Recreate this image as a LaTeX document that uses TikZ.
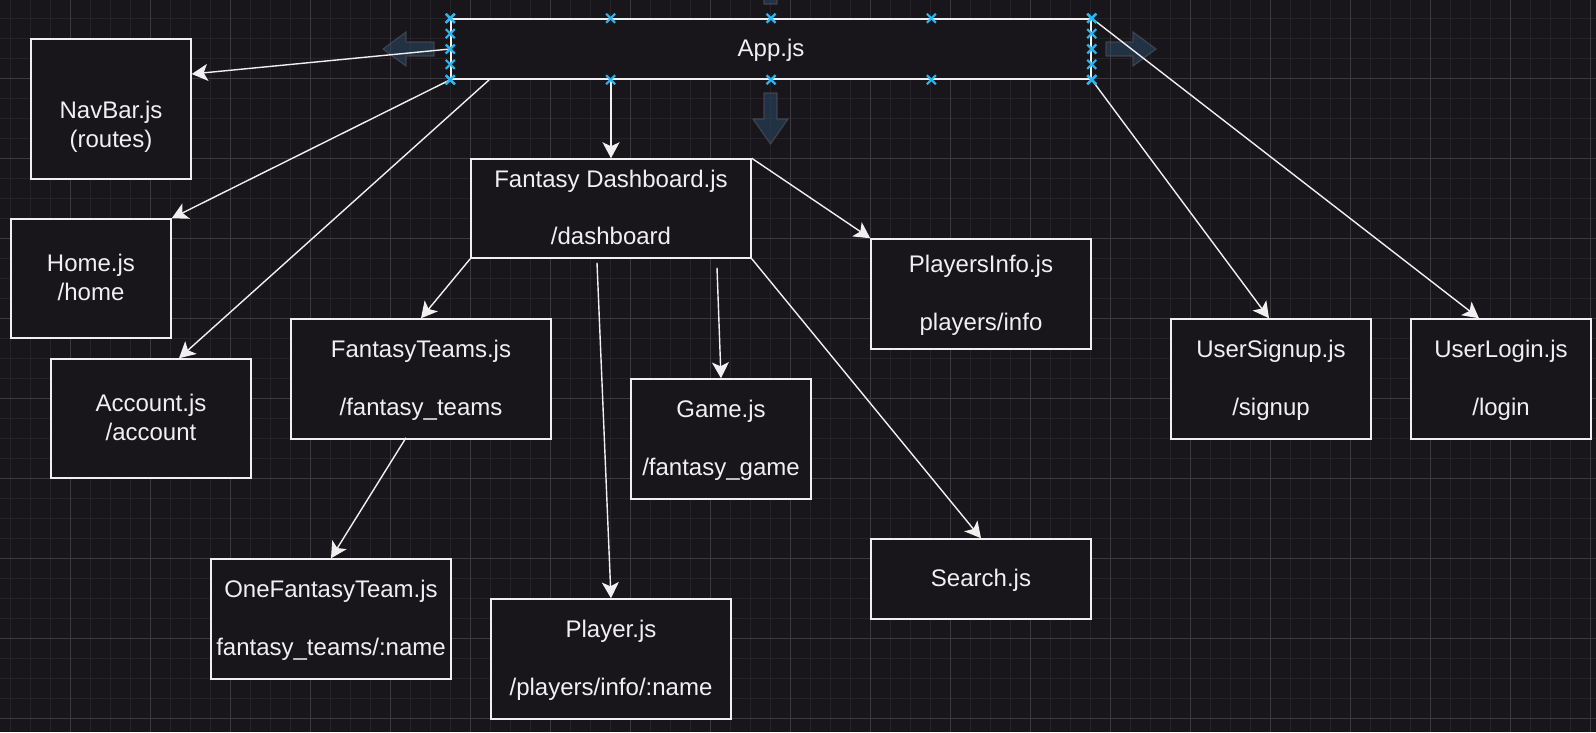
\documentclass[tikz,border=0pt]{standalone}
\usepackage{fontspec}
\setmainfont{Liberation Sans}
\usetikzlibrary{arrows.meta,calc}
\definecolor{bg}{RGB}{24,22,27}
\definecolor{gridminor}{RGB}{37,35,40}
\definecolor{gridmajor}{RGB}{60,58,63}
\definecolor{boxfill}{RGB}{24,21,27}
\definecolor{fg}{RGB}{240,240,240}
\definecolor{handle}{RGB}{41,182,242}
\definecolor{hovfill}{RGB}{40,74,100}
\definecolor{hovdraw}{RGB}{78,78,86}
\newcommand{\mystrut}{\rule[-6.9pt]{0pt}{28.8pt}}
\begin{document}
\begin{tikzpicture}[x=1pt,y=-1pt,
  stepbox/.style={draw=fg, line width=1.5pt, fill=boxfill, text=fg,
    font=\fontsize{24}{28.8}\selectfont, align=center, inner sep=0pt},
  conn/.style={draw=fg, line width=1.4pt, -{Stealth[length=16pt,width=17pt,inset=4pt]}},
  hover/.style={fill=hovfill, fill opacity=0.55, draw=hovdraw, draw opacity=0.7, line width=1.2pt},
  hmark/.style={draw=handle, line width=2.2pt}
]
\fill[bg] (0,0) rectangle (1596,732);
\useasboundingbox (0,0) rectangle (1596,732);
% grid
\foreach \x in {10,30,...,1590} \draw[gridminor, line width=1pt] (\x,0) -- (\x,732);
\foreach \y in {18,38,...,730} \draw[gridminor, line width=1pt] (0,\y) -- (1596,\y);
\foreach \x in {70,150,...,1590} \draw[gridmajor, line width=1pt] (\x,0) -- (\x,732);
\foreach \y in {78,158,...,718} \draw[gridmajor, line width=1pt] (0,\y) -- (1596,\y);

% hover arrows
\draw[hover] (383,49) -- (406,32) -- (406,42) -- (434,42) -- (434,56) -- (406,56) -- (406,66) -- cycle;
\draw[hover] (1156,49) -- (1133,32) -- (1133,42) -- (1106,42) -- (1106,56) -- (1133,56) -- (1133,66) -- cycle;
\draw[hover] (770.5,144) -- (753,119) -- (764,119) -- (764,93) -- (777,93) -- (777,119) -- (788,119) -- cycle;
\draw[hover] (770.5,-46) -- (753,-21) -- (764,-21) -- (764,4) -- (777,4) -- (777,-21) -- (788,-21) -- cycle;

% nodes
\node[stepbox, minimum width=640pt, minimum height=60pt] (app) at (771,49) {\mystrut App.js};
\node[stepbox, minimum width=160pt, minimum height=140pt] (navbar) at (111,109) {\rule[-6.9pt]{0pt}{32.8pt}\\NavBar.js\\(routes)\mystrut};
\node[stepbox, minimum width=160pt, minimum height=119pt] (home) at (91,278.5) {\mystrut Home.js\\/home\mystrut};
\node[stepbox, minimum width=200pt, minimum height=119pt] (account) at (151,418.5) {\mystrut Account.js\\/account\mystrut};
\node[stepbox, minimum width=280pt, minimum height=99pt] (dash) at (611,208.5) {\mystrut Fantasy Dashboard.js\\\mystrut\\/dashboard\mystrut};
\node[stepbox, minimum width=260pt, minimum height=120pt] (ft) at (421,379) {\mystrut FantasyTeams.js\\\mystrut\\/fantasy\_teams\mystrut};
\node[stepbox, minimum width=180pt, minimum height=120pt] (game) at (721,439) {\mystrut Game.js\\\mystrut\\/fantasy\_game\mystrut};
\node[stepbox, minimum width=220pt, minimum height=110pt] (pinfo) at (981,294) {\mystrut PlayersInfo.js\\\mystrut\\players/info\mystrut};
\node[stepbox, minimum width=200pt, minimum height=120pt] (signup) at (1271,379) {\mystrut UserSignup.js\\\mystrut\\/signup\mystrut};
\node[stepbox, minimum width=180pt, minimum height=120pt] (login) at (1501,379) {\mystrut UserLogin.js\\\mystrut\\/login\mystrut};
\node[stepbox, minimum width=240pt, minimum height=120pt] (oft) at (331,619) {\mystrut OneFantasyTeam.js\\\mystrut\\fantasy\_teams/:name\mystrut};
\node[stepbox, minimum width=240pt, minimum height=120pt] (player) at (611,659) {\mystrut Player.js\\\mystrut\\/players/info/:name\mystrut};
\node[stepbox, minimum width=220pt, minimum height=80pt] (search) at (981,579) {\mystrut Search.js};

% connectors
\draw[conn] (app.west) -- ([yshift=35pt]navbar.east);
\draw[conn] (app.south west) -- (home.north east);
\draw[conn] ([xshift=39pt]app.south west) -- ([xshift=28pt]account.north);
\draw[conn] (app.south west -| dash.north) -- (dash.north);
\draw[conn] (app.north east) -- ([xshift=-22pt]login.north);
\draw[conn] (app.south east) -- ([xshift=-2pt]signup.north);
\draw[conn] (dash.north east) -- (pinfo.north west);
\draw[conn] (dash.south west) -- (ft.north);
\draw[conn] ([xshift=-14pt,yshift=-4pt]dash.south) -- (player.north);
\draw[conn] ([xshift=106pt,yshift=-9pt]dash.south) -- (game.north);
\draw[conn] (dash.south east) -- (search.north);
\draw[conn] ([xshift=-15pt,yshift=2pt]ft.south) -- (oft.north);

% selection handles
\foreach \k in {0,1,2,3,4} {
  \coordinate (ht) at ($(app.north west)!{\k/4}!(app.north east)$);
  \coordinate (hb) at ($(app.south west)!{\k/4}!(app.south east)$);
  \coordinate (hl) at ($(app.north west)!{\k/4}!(app.south west)$);
  \coordinate (hr) at ($(app.north east)!{\k/4}!(app.south east)$);
  \foreach \h in {ht,hb,hl,hr} {
    \draw[hmark] ([shift={(-4.5pt,-4.5pt)}]\h) -- ([shift={(4.5pt,4.5pt)}]\h);
    \draw[hmark] ([shift={(-4.5pt,4.5pt)}]\h) -- ([shift={(4.5pt,-4.5pt)}]\h);
  }
}
\end{tikzpicture}
\end{document}
